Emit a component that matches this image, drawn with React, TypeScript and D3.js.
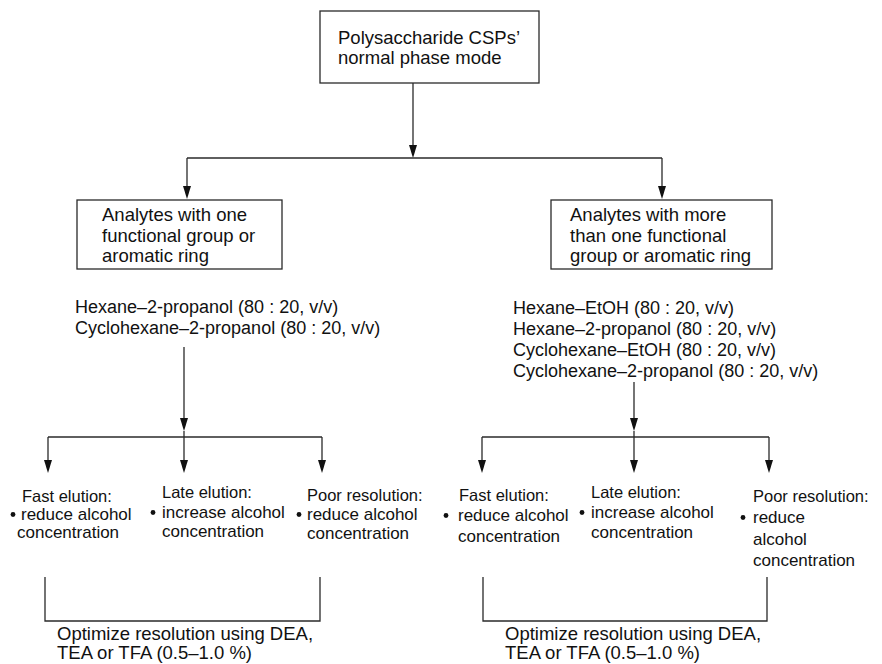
import React from "react";
import * as d3 from "d3";

// ---------- content ----------
const topBoxLines = ["Polysaccharide CSPs\u2019", "normal phase mode"];
const leftBoxLines = ["Analytes with one", "functional group or", "aromatic ring"];
const rightBoxLines = ["Analytes with more", "than one functional", "group or aromatic ring"];
const leftSolvents = [
  "Hexane\u20132-propanol (80 : 20, v/v)",
  "Cyclohexane\u20132-propanol (80 : 20, v/v)",
];
const rightSolvents = [
  "Hexane\u2013EtOH (80 : 20, v/v)",
  "Hexane\u20132-propanol (80 : 20, v/v)",
  "Cyclohexane\u2013EtOH (80 : 20, v/v)",
  "Cyclohexane\u20132-propanol (80 : 20, v/v)",
];
const outcomeTitles = ["Fast elution:", "Late elution:", "Poor resolution:"];
const leftOutcomeBodies = [
  ["reduce alcohol", "concentration"],
  ["increase alcohol", "concentration"],
  ["reduce alcohol", "concentration"],
];
const rightOutcomeBodies = [
  ["reduce alcohol", "concentration"],
  ["increase alcohol", "concentration"],
  ["reduce", "alcohol", "concentration"],
];
const optimizeLines = ["Optimize resolution using DEA,", "TEA or TFA (0.5\u20131.0 %)"];

// ---------- layout ----------
const W = 882;
const H = 664;
const FONT = "'Liberation Sans', Arial, Helvetica, sans-serif";
const STROKE = "#2a2a2a";
const SW = 1.3;

const topBox = { x0: 320, y0: 11, x1: 539, y1: 83, tx: 338, ty: 44, lh: 20 };
const midBoxes = [
  { x0: 77, y0: 200, x1: 282, y1: 269, tx: 102, ty: 221, lh: 20.5 },
  { x0: 551, y0: 200, x1: 772, y1: 269, tx: 570, ty: 221, lh: 20.5 },
];
const branchY = 158;
const branchX = [187, 662];
const solventPos = [
  { x: 75, y: 313, lh: 20.5 },
  { x: 513, y: 314, lh: 21 },
];
const solventStem = [
  { x: 184, y0: 347, tip: 431 },
  { x: 634, y0: 382, tip: 431 },
];
const forkY = 437;
const forkX = [
  [48, 184, 322],
  [482, 634, 769],
];
const forkTip = 473;

const outcomeLayout = [
  [
    { tx: 22, ty: 502, bx: 13, lines: [{ x: 21, y: 520 }, { x: 17, y: 538 }] },
    { tx: 162, ty: 498, bx: 153, lines: [{ x: 162, y: 518 }, { x: 162, y: 537 }] },
    { tx: 307, ty: 501, bx: 299, lines: [{ x: 307, y: 520 }, { x: 307, y: 539 }] },
  ],
  [
    { tx: 459, ty: 501, bx: 446, lines: [{ x: 458, y: 521 }, { x: 458, y: 542 }] },
    { tx: 591, ty: 498, bx: 582, lines: [{ x: 591, y: 518 }, { x: 591, y: 538 }] },
    { tx: 753, ty: 502, bx: 743, lines: [{ x: 753, y: 523 }, { x: 753, y: 545 }, { x: 753, y: 566 }] },
  ],
];
const brackets = [
  { x0: 45, x1: 320, y0: 577, y1: 621, tx: 57 },
  { x0: 483, x1: 767, y0: 577, y1: 621, tx: 505 },
];
const optimizeY = [640, 659];

const line = d3.line<[number, number]>();

function Arrow({ x, y0, tip }: { x: number; y0: number; tip: number }) {
  const hl = 13;
  const hw = 4;
  return (
    <g>
      <path d={line([[x, y0], [x, tip - hl + 1]]) || ""} stroke={STROKE} strokeWidth={SW} fill="none" />
      <path
        d={`M${x},${tip} L${x - hw},${tip - hl} L${x + hw},${tip - hl} Z`}
        fill="#111"
        stroke="none"
      />
    </g>
  );
}

function Lines({ lines, x, y, lh, size }: { lines: string[]; x: number; y: number; lh: number; size: number }) {
  return (
    <g>
      {lines.map((t, i) => (
        <text key={i} x={x} y={y + i * lh} fontSize={size} fontFamily={FONT} fill="#111">
          {t}
        </text>
      ))}
    </g>
  );
}

export default function App() {
  const boxSize = 18.5;
  const solSize = 18;
  const titleSize = 16.5;
  const outSize = 17;
  return (
    <svg
      width={W}
      height={H}
      viewBox={`0 0 ${W} ${H}`}
      style={{ position: "absolute", left: 0, top: 0, background: "#fff" }}
    >
      <rect x={0} y={0} width={W} height={H} fill="#fff" />

      {/* top box */}
      <rect
        x={topBox.x0}
        y={topBox.y0}
        width={topBox.x1 - topBox.x0}
        height={topBox.y1 - topBox.y0}
        fill="#fff"
        stroke={STROKE}
        strokeWidth={SW}
      />
      <Lines lines={topBoxLines} x={topBox.tx} y={topBox.ty} lh={topBox.lh} size={boxSize} />

      {/* top stem */}
      <Arrow x={413} y0={topBox.y1} tip={branchY} />
      <path
        d={line([[branchX[0], branchY], [branchX[1], branchY]]) || ""}
        stroke={STROKE}
        strokeWidth={SW}
        fill="none"
      />
      {branchX.map((x, i) => (
        <Arrow key={i} x={x} y0={branchY} tip={midBoxes[i].y0 - 1} />
      ))}

      {/* middle boxes */}
      {midBoxes.map((b, i) => (
        <g key={i}>
          <rect
            x={b.x0}
            y={b.y0}
            width={b.x1 - b.x0}
            height={b.y1 - b.y0}
            fill="#fff"
            stroke={STROKE}
            strokeWidth={SW}
          />
          <Lines lines={i === 0 ? leftBoxLines : rightBoxLines} x={b.tx} y={b.ty} lh={b.lh} size={boxSize} />
        </g>
      ))}

      {/* solvents */}
      {[leftSolvents, rightSolvents].map((s, i) => (
        <Lines key={i} lines={s} x={solventPos[i].x} y={solventPos[i].y} lh={solventPos[i].lh} size={solSize} />
      ))}

      {/* solvent stems and forks */}
      {solventStem.map((s, i) => (
        <g key={i}>
          <Arrow x={s.x} y0={s.y0} tip={s.tip} />
          <path d={line([[s.x, s.tip], [s.x, forkY]]) || ""} stroke={STROKE} strokeWidth={SW} fill="none" />
          <path
            d={line([[forkX[i][0], forkY], [forkX[i][2], forkY]]) || ""}
            stroke={STROKE}
            strokeWidth={SW}
            fill="none"
          />
          {forkX[i].map((x, j) => (
            <Arrow key={j} x={x} y0={forkY} tip={forkTip} />
          ))}
        </g>
      ))}

      {/* outcomes */}
      {[leftOutcomeBodies, rightOutcomeBodies].map((bodies, p) => (
        <g key={p}>
          {bodies.map((body, k) => {
            const L = outcomeLayout[p][k];
            return (
              <g key={k}>
                <text x={L.tx} y={L.ty} fontSize={titleSize} fontFamily={FONT} fill="#111">
                  {outcomeTitles[k]}
                </text>
                <circle cx={L.bx} cy={L.lines[0].y - 5.5} r={2.4} fill="#111" />
                {body.map((t, m) => (
                  <text key={m} x={L.lines[m].x} y={L.lines[m].y} fontSize={outSize} fontFamily={FONT} fill="#111">
                    {t}
                  </text>
                ))}
              </g>
            );
          })}
        </g>
      ))}

      {/* brackets */}
      {brackets.map((b, i) => (
        <g key={i}>
          <path
            d={line([[b.x0, b.y0], [b.x0, b.y1], [b.x1, b.y1], [b.x1, b.y0]]) || ""}
            stroke={STROKE}
            strokeWidth={SW}
            fill="none"
          />
          {optimizeLines.map((t, j) => (
            <text key={j} x={b.tx} y={optimizeY[j]} fontSize={boxSize} fontFamily={FONT} fill="#111">
              {t}
            </text>
          ))}
        </g>
      ))}
    </svg>
  );
}
